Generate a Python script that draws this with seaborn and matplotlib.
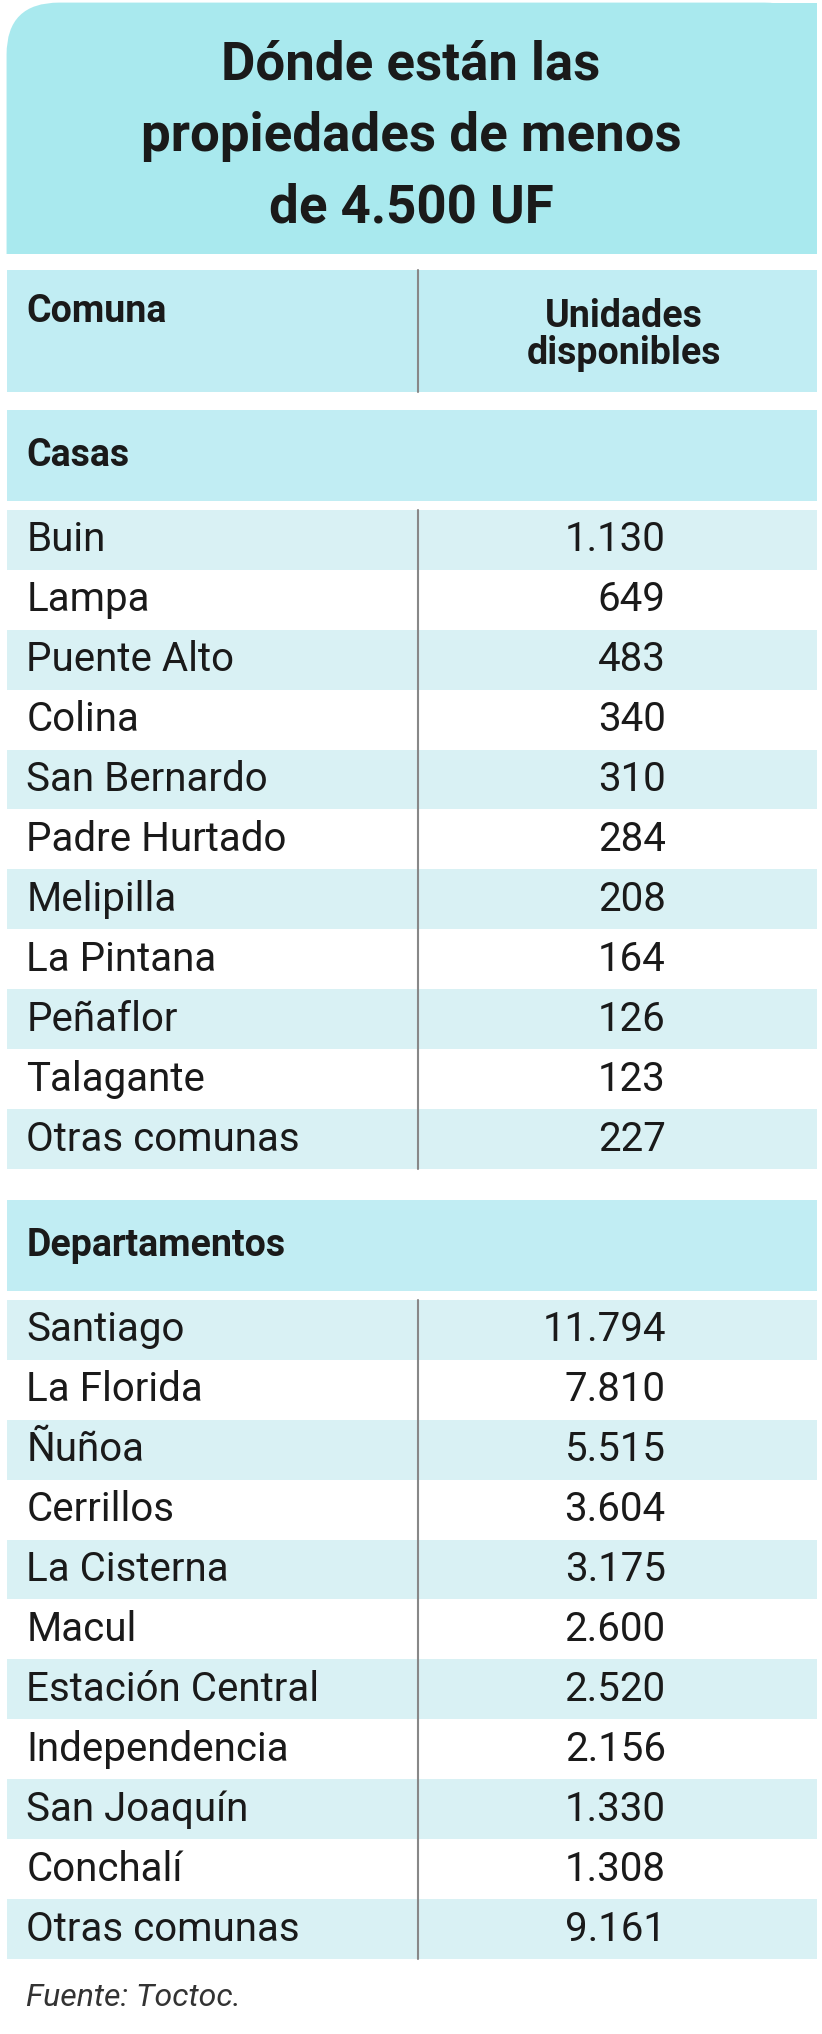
import matplotlib
matplotlib.use("Agg")
import matplotlib.pyplot as plt
import seaborn as sns
from matplotlib.patches import Rectangle, FancyBboxPatch

title_lines = ["Dónde están las", "propiedades de menos", "de 4.500 UF"]
header_left = "Comuna"
header_right = "Unidades\ndisponibles"
casas_names = ["Buin", "Lampa", "Puente Alto", "Colina", "San Bernardo", "Padre Hurtado",
               "Melipilla", "La Pintana", "Peñaflor", "Talagante", "Otras comunas"]
casas_vals = ["1.130", "649", "483", "340", "310", "284", "208", "164", "126", "123", "227"]
dept_names = ["Santiago", "La Florida", "Ñuñoa", "Cerrillos", "La Cisterna", "Macul",
              "Estación Central", "Independencia", "San Joaquín", "Conchalí", "Otras comunas"]
dept_vals = ["11.794", "7.810", "5.515", "3.604", "3.175", "2.600", "2.520", "2.156",
             "1.330", "1.308", "9.161"]
source = "Fuente: Toctoc."

sns.set_theme(style="white")
plt.rcParams['font.family'] = ['Roboto', 'DejaVu Sans']

TITLE_BG = "#a9e9ee"
HEAD_BG = "#c1edf3"
ROW_A = "#d9f1f4"
ROW_B = "#ffffff"
TXT = "#1a1a1a"

fig = plt.figure(figsize=(8.22, 20.34), dpi=100)
ax = fig.add_axes([0, 0, 1, 1])
ax.set_xlim(0, 626)
ax.set_ylim(1568, 0)
ax.axis("off")

# title box (rounded top-left corner only)
ax.add_patch(FancyBboxPatch((5, 2), 617, 300, boxstyle="round,pad=0,rounding_size=40",
                            fc=TITLE_BG, ec="none"))
ax.add_patch(Rectangle((300, 2), 322, 194, fc=TITLE_BG, ec="none"))
ax.add_patch(Rectangle((5, 150), 617, 46, fc=TITLE_BG, ec="none"))
ax.add_patch(Rectangle((0, 196), 626, 120, fc="white", ec="none"))
for i, t in enumerate(title_lines):
    ax.text(313, 50 + i * 55, t, ha="center", va="center", fontsize=38,
            fontweight="bold", color=TXT)

# header
ax.add_patch(Rectangle((5, 208), 617, 94, fc=HEAD_BG, ec="none"))
ax.plot([318, 318], [208, 302], color="#888888", lw=1.5)
ax.text(20, 240, header_left, ha="left", va="center", fontsize=27, fontweight="bold", color=TXT)
ax.text(475, 258, header_right, ha="center", va="center", fontsize=27, fontweight="bold",
        color=TXT, linespacing=1.0)

row_h = 46.2

def section(title, y_head, names, vals):
    ax.add_patch(Rectangle((5, y_head), 617, 70, fc=HEAD_BG, ec="none"))
    ax.text(20, y_head + 35, title, ha="left", va="center", fontsize=27,
            fontweight="bold", color=TXT)
    y0 = y_head + 77
    for i, (n, v) in enumerate(zip(names, vals)):
        y = y0 + i * row_h
        ax.add_patch(Rectangle((5, y), 617, row_h, fc=ROW_A if i % 2 == 0 else ROW_B, ec="none"))
        ax.text(20, y + row_h / 2, n, ha="left", va="center", fontsize=29, color=TXT)
        ax.text(507, y + row_h / 2, v, ha="right", va="center", fontsize=29, color=TXT)
    ax.plot([318, 318], [y0, y0 + len(names) * row_h], color="#888888", lw=1.5)

section("Casas", 316, casas_names, casas_vals)
section("Departamentos", 925, dept_names, dept_vals)

ax.text(20, 1540, source, ha="left", va="center", fontsize=23, style="italic", color="#333333")

fig.savefig("out.png", dpi=100)
